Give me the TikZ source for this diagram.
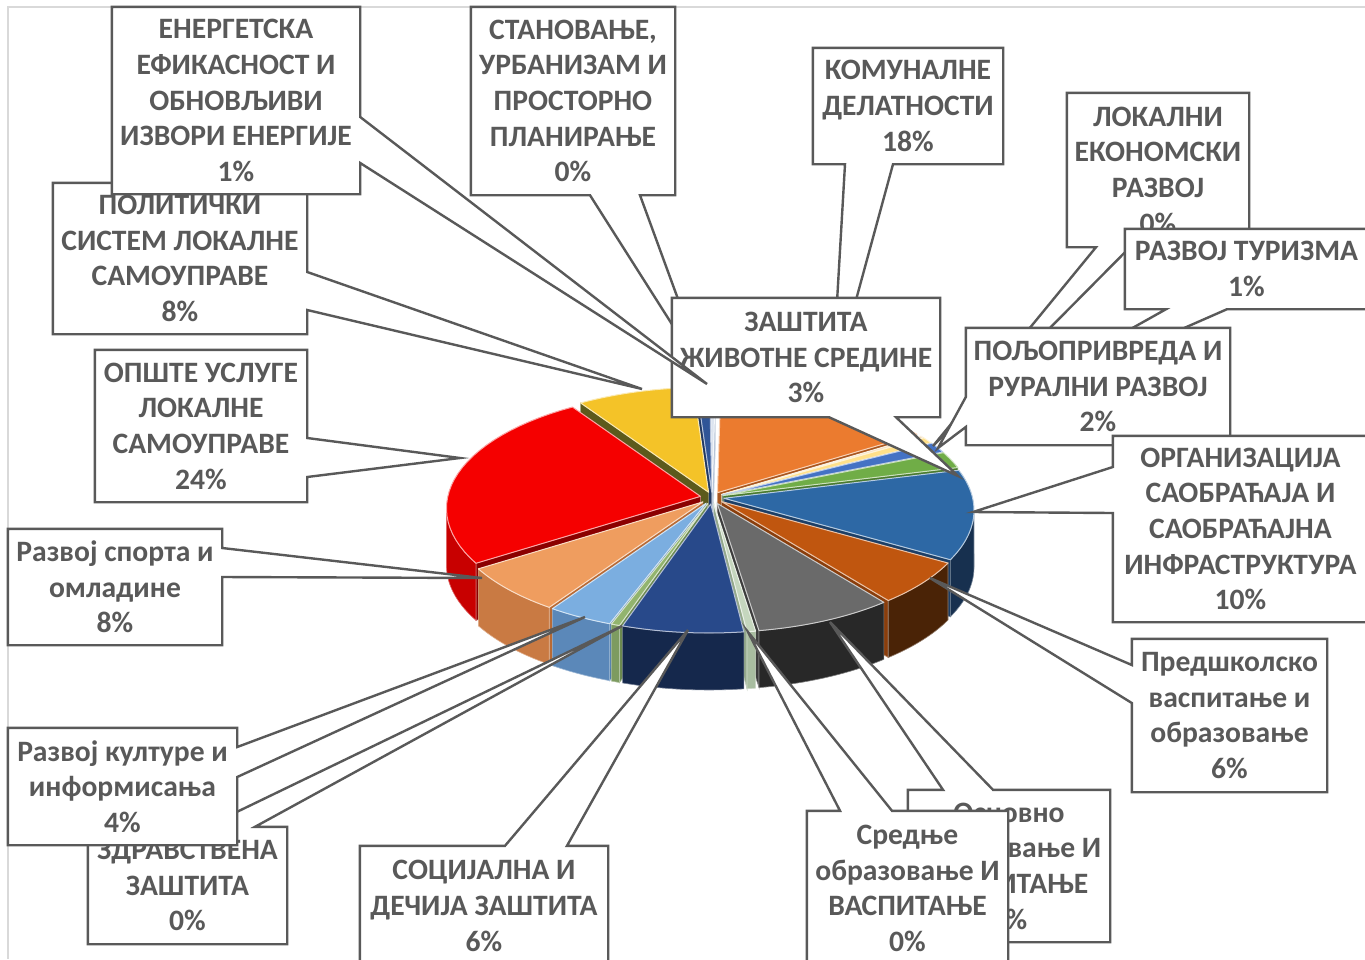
\documentclass[tikz,border=0pt]{standalone}
\usepackage{fontspec}
\setmainfont{Carlito}
\usetikzlibrary{calc}

\definecolor{txtgray}{HTML}{595959}
\definecolor{framegray}{HTML}{D9D9D9}
% slice tops
\definecolor{stac}{HTML}{DCE4F0}
\definecolor{komc}{HTML}{EB7B2F}
\definecolor{lokc}{HTML}{F5DDB8}
\definecolor{turc}{HTML}{FFE08A}
\definecolor{poljc}{HTML}{4472C4}
\definecolor{zasc}{HTML}{70AD47}
\definecolor{orgc}{HTML}{2D68A5}
\definecolor{prec}{HTML}{C0560F}
\definecolor{osnc}{HTML}{6A6A6A}
\definecolor{srec}{HTML}{C5D6BE}
\definecolor{socc}{HTML}{28498A}
\definecolor{zdrc}{HTML}{92B46E}
\definecolor{kulc}{HTML}{7BAEE0}
\definecolor{spoc}{HTML}{EF9D5F}
\definecolor{opsc}{HTML}{F50000}
\definecolor{polc}{HTML}{F4C328}
\definecolor{enrc}{HTML}{2F5597}
% radial walls
\definecolor{stawall}{HTML}{B4C2D6}
\definecolor{komwall}{HTML}{A9561E}
\definecolor{lokwall}{HTML}{C9B592}
\definecolor{turwall}{HTML}{C9B35A}
\definecolor{poljwall}{HTML}{2C4E8A}
\definecolor{zaswall}{HTML}{4A7A2E}
\definecolor{orgwall}{HTML}{1D3F66}
\definecolor{prewall}{HTML}{8A3E0C}
\definecolor{osnwall}{HTML}{3C3C3C}
\definecolor{srewall}{HTML}{93A88A}
\definecolor{enrwall}{HTML}{1F3864}
\definecolor{polwall}{HTML}{5C5A1C}
\definecolor{opswall}{HTML}{8B0000}
\definecolor{spowall}{HTML}{B86A35}
\definecolor{kulwall}{HTML}{4F7BAA}
\definecolor{zdrwall}{HTML}{6C8A50}
% outer sides
\definecolor{opsside}{HTML}{C80000}
\definecolor{sposide}{HTML}{C97A43}
\definecolor{kulside}{HTML}{5B88B9}
\definecolor{zdrside}{HTML}{7D9B60}
\definecolor{socside}{HTML}{15284C}
\definecolor{sreside}{HTML}{A8BDA0}
\definecolor{osnside}{HTML}{282828}
\definecolor{preside}{HTML}{4A2306}
\definecolor{orgside}{HTML}{17304F}

\tikzset{
  lbl/.style={fill=white, text=txtgray, align=center, inner sep=0pt,
    font=\bfseries\fontsize{29.6}{35.7}\selectfont},
  callout/.style={draw=txtgray, line width=2.4pt},
  slicetop/.style={line width=1pt, line join=round},
}

% callout outlines: node, two base positions, tip
\newcommand\wedgeE[4]{%
  \fill[white] (#1.east |- 0,#2) -- (#4) -- (#1.east |- 0,#3) -- cycle;
  \draw[callout] (#1.east |- 0,#3) -- (#1.south east) -- (#1.south west)
    -- (#1.north west) -- (#1.north east) -- (#1.east |- 0,#2) -- (#4) -- cycle;}
\newcommand\wedgeW[4]{%
  \fill[white] (#1.west |- 0,#2) -- (#4) -- (#1.west |- 0,#3) -- cycle;
  \draw[callout] (#1.west |- 0,#2) -- (#1.north west) -- (#1.north east)
    -- (#1.south east) -- (#1.south west) -- (#1.west |- 0,#3) -- (#4) -- cycle;}
\newcommand\wedgeS[4]{%
  \fill[white] (#1.south -| #2,0) -- (#4) -- (#1.south -| #3,0) -- cycle;
  \draw[callout] (#1.south -| #2,0) -- (#1.south west) -- (#1.north west)
    -- (#1.north east) -- (#1.south east) -- (#1.south -| #3,0) -- (#4) -- cycle;}
\newcommand\wedgeN[4]{%
  \fill[white] (#1.north -| #2,0) -- (#4) -- (#1.north -| #3,0) -- cycle;
  \draw[callout] (#1.north -| #2,0) -- (#1.north west) -- (#1.south west)
    -- (#1.south east) -- (#1.north east) -- (#1.north -| #3,0) -- (#4) -- cycle;}

\begin{document}
\begin{tikzpicture}[x=1pt, y=-1pt]
    \useasboundingbox (0,0) rectangle (1365,959);
    \draw[framegray, line width=1.5pt] (1365,7) -- (8,7) -- (8,959);

    % radial walls
    \foreach \t/\m/\col in {88.8/89.4/stawall, 37/62.9/komwall, 36/36.5/lokwall,
        33/34.5/turwall, 28/30.5/poljwall, 20/24/zaswall, -25/-2.5/orgwall,
        -48/-36.5/prewall, -80/-64/osnwall, -82/-81/srewall, 93/91.5/enrwall,
        120/106.5/polwall, 208/164/opswall, 233/220.5/spowall, 248/240.5/kulwall,
        250/249/zdrwall}
        \filldraw[fill=\col, draw=\col!60!white, line width=.6pt]
            ({712+12*cos(\m)}, {498-6*sin(\m)})
            -- ({710+12*cos(\m)+252*cos(\t)}, {510-6*sin(\m)-117*sin(\t)}) -- ++(0,57)
            -- ({712+12*cos(\m)}, {555-6*sin(\m)}) -- cycle;

    % outer sides
    \foreach \ta/\tb/\m/\col in {180/208/164/opsside, 208/233/220.5/sposide,
        233/248/240.5/kulside, 248/250/249/zdrside, 250/278/264/socside,
        278/280/279/sreside, 280/312/296/osnside, 312/335/323.5/preside,
        335/360/357.5/orgside}
        \filldraw[fill=\col, draw=\col!60!white, line width=.6pt]
            plot[domain=\ta:\tb, samples=30] ({710+12*cos(\m)+252*cos(\x)}, {510-6*sin(\m)-117*sin(\x)})
            -- plot[domain=\tb:\ta, samples=30] ({710+12*cos(\m)+252*cos(\x)}, {567-6*sin(\m)-117*sin(\x)})
            -- cycle;

    % slice tops
    \foreach \ta/\tb/\col in {88.8/90/stac, 37/88.8/komc, 36/37/lokc, 33/36/turc,
        28/33/poljc, 20/28/zasc, -25/20/orgc, -48/-25/prec, -80/-48/osnc,
        -82/-80/srec, -110/-82/socc, -112/-110/zdrc, -127/-112/kulc,
        -152/-127/spoc, 120/208/opsc, 93/120/polc, 90/93/enrc}
    {
        \pgfmathsetmacro\m{(\ta+\tb)/2}
        \filldraw[fill=\col, draw=\col!35!white, slicetop]
            ({712+12*cos(\m)}, {498-6*sin(\m)})
            -- plot[domain=\ta:\tb, samples=30] ({710+12*cos(\m)+252*cos(\x)}, {510-6*sin(\m)-117*sin(\x)})
            -- cycle;
    }

    % tips on the slices
    \coordinate (t-pol) at (642,389);
    \coordinate (t-enr) at (707,384);
    \coordinate (t-sta) at (708,381);
    \coordinate (t-kom) at (832,388);
    \coordinate (t-lok) at (933,446);
    \coordinate (t-tur) at (945,433);
    \coordinate (t-polj) at (938,448);
    \coordinate (t-zas) at (958,476);
    \coordinate (t-org) at (973,512);
    \coordinate (t-pre) at (930,578);
    \coordinate (t-osn) at (830,622);
    \coordinate (t-sre) at (748,632);
    \coordinate (t-soc) at (688,630);
    \coordinate (t-zdr) at (622,626);
    \coordinate (t-kul) at (585,617);
    \coordinate (t-spo) at (482,578);
    \coordinate (t-ops) at (460,458);

    % labels
    \node[lbl, minimum width=204, minimum height=188] (sta) at (573,101)
        {СТАНОВАЊЕ,\\УРБАНИЗАМ И\\ПРОСТОРНО\\ПЛАНИРАЊЕ\\0\%};
    \wedgeS{sta}{590}{640}{t-sta}
    \node[lbl, minimum width=190, minimum height=116] (kom) at (908,106)
        {КОМУНАЛНЕ\\ДЕЛАТНОСТИ\\18\%};
    \wedgeS{kom}{845}{893}{t-kom}
    \node[lbl, minimum width=268, minimum height=119] (zas) at (806,357.5)
        {ЗАШТИТА\\ЖИВОТНЕ СРЕДИНЕ\\3\%};
    \wedgeS{zas}{829}{896}{t-zas}
    \node[lbl, minimum width=254, minimum height=151] (pol) at (180,258.5)
        {ПОЛИТИЧКИ\\СИСТЕМ ЛОКАЛНЕ\\САМОУПРАВЕ\\8\%};
    \wedgeE{pol}{272}{310}{t-pol}
    \node[lbl, minimum width=212, minimum height=152] (ops) at (201,426)
        {ОПШТЕ УСЛУГЕ\\ЛОКАЛНЕ\\САМОУПРАВЕ\\24\%};
    \wedgeE{ops}{438}{477}{t-ops}
    \node[lbl, minimum width=214, minimum height=116] (spo) at (115,587)
        {Развој спорта и\\омладине\\8\%};
    \wedgeE{spo}{548}{577}{t-spo}
    \node[lbl, minimum width=248, minimum height=187] (enr) at (236,100.5)
        {ЕНЕРГЕТСКА\\ЕФИКАСНОСТ И\\ОБНОВЉИВИ\\ИЗВОРИ ЕНЕРГИЈЕ\\1\%};
    \wedgeE{enr}{117}{163}{t-enr}
    \node[lbl, minimum width=182, minimum height=154] (lok) at (1158,170)
        {ЛОКАЛНИ\\ЕКОНОМСКИ\\РАЗВОЈ\\0\%};
    \wedgeS{lok}{1096}{1130}{t-lok}
    \node[lbl, minimum width=243, minimum height=80] (tur) at (1246.5,269)
        {РАЗВОЈ ТУРИЗМА\\1\%};
    \wedgeS{tur}{1166}{1227}{t-tur}
    \node[lbl, minimum width=264, minimum height=117] (polj) at (1098,386.5)
        {ПОЉОПРИВРЕДА И\\РУРАЛНИ РАЗВОЈ\\2\%};
    \wedgeW{polj}{397}{427}{t-polj}
    \node[lbl, minimum width=255, minimum height=186] (org) at (1240.5,529)
        {ОРГАНИЗАЦИЈА\\САОБРАЋАЈА И\\САОБРАЋАЈНА\\ИНФРАСТРУКТУРА\\10\%};
    \wedgeW{org}{467}{513}{t-org}
    \node[lbl, minimum width=195, minimum height=153] (pre) at (1229.5,715.5)
        {Предшколско\\васпитање и\\образовање\\6\%};
    \wedgeW{pre}{665}{703}{t-pre}
    \node[lbl, minimum width=202, minimum height=152] (osn) at (1009,866)
        {Основно\\образовање И\\ВАСПИТАЊЕ\\9\%};
    \wedgeN{osn}{943}{993}{t-osn}
    \node[lbl, minimum width=201, minimum height=155] (sre) at (907.5,888.5)
        {Средње\\образовање И\\ВАСПИТАЊЕ\\0\%};
    \wedgeN{sre}{840}{892}{t-sre}
    \node[lbl, minimum width=248, minimum height=120] (soc) at (484,906)
        {СОЦИЈАЛНА И\\ДЕЧИЈА ЗАШТИТА\\6\%};
    \wedgeN{soc}{505}{567}{t-soc}
    \node[lbl, minimum width=199, minimum height=117] (zdr) at (187.5,885.5)
        {ЗДРАВСТВЕНА\\ЗАШТИТА\\0\%};
    \wedgeN{zdr}{206}{255}{t-zdr}
    \node[lbl, minimum width=229, minimum height=117] (kul) at (122.5,786.5)
        {Развој културе и\\информисања\\4\%};
    \wedgeE{kul}{747}{777}{t-kul}
\end{tikzpicture}
\end{document}
